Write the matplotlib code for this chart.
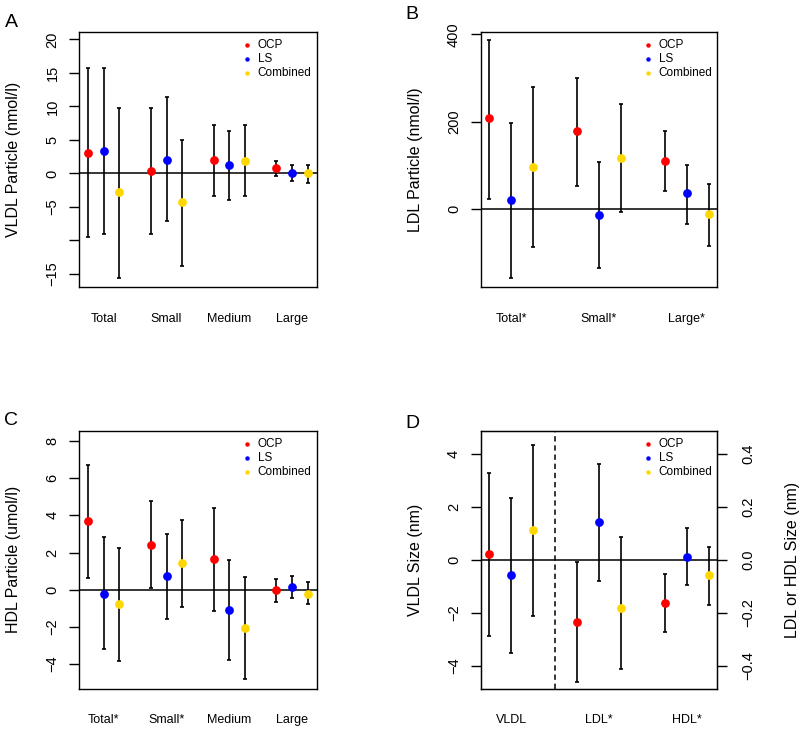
"""Lipoprotein particle panels

Four panels with group means and intervals for OCP, LS and the combined
treatment. Panel D has a second axis for the LDL and HDL sizes.

"""
import matplotlib
matplotlib.use("Agg")
import matplotlib.pyplot as plt

plt.rcParams['font.family'] = ['Liberation Sans', 'DejaVu Sans']

SERIES = ["OCP", "LS", "Combined"]
COLORS = ["#FF0000", "#0000FF", "#FFD700"]

# Panel A, VLDL particles (nmol/l), rows are OCP, LS, Combined
A_GROUPS = ["Total", "Small", "Medium", "Large"]
A_MEAN = [[3.1, 0.4, 2.0, 0.8], [3.3, 2.0, 1.2, 0.1], [-2.8, -4.3, 1.8, 0.0]]
A_LOW = [[-9.5, -9.1, -3.4, -0.4], [-9.1, -7.1, -4.0, -1.2],
         [-15.6, -13.8, -3.4, -1.4]]
A_HIGH = [[15.8, 9.8, 7.2, 1.9], [15.8, 11.4, 6.4, 1.2], [9.8, 5.0, 7.2, 1.2]]

# Panel B, LDL particles (nmol/l)
B_GROUPS = ["Total*", "Small*", "Large*"]
B_MEAN = [[208, 178, 111], [21, -13, 37], [97, 118, -11]]
B_LOW = [[23, 53, 41], [-157, -133, -34], [-86, -7, -83]]
B_HIGH = [[387, 300, 180], [197, 107, 102], [279, 240, 57]]

# Panel C, HDL particles (umol/l)
C_GROUPS = ["Total*", "Small*", "Medium", "Large"]
C_MEAN = [[3.70, 2.42, 1.63, -0.02], [-0.22, 0.72, -1.11, 0.16],
          [-0.79, 1.45, -2.05, -0.22]]
C_LOW = [[0.63, 0.11, -1.13, -0.65], [-3.20, -1.56, -3.77, -0.43],
         [-3.84, -0.93, -4.83, -0.79]]
C_HIGH = [[6.71, 4.79, 4.38, 0.56], [2.82, 3.02, 1.62, 0.75],
          [2.24, 3.73, 0.70, 0.41]]

# Panel D, VLDL size (nm) on the left axis
D_GROUPS = ["VLDL", "LDL*", "HDL*"]
D_VLDL_MEAN = [0.23, -0.59, 1.11]
D_VLDL_LOW = [-2.88, -3.54, -2.14]
D_VLDL_HIGH = [3.26, 2.34, 4.32]
# LDL and HDL size (nm) on the right axis
D_SIZE_MEAN = [[-0.237, -0.162], [0.141, 0.011], [-0.181, -0.058]]
D_SIZE_LOW = [[-0.462, -0.273], [-0.079, -0.096], [-0.413, -0.170]]
D_SIZE_HIGH = [[-0.010, -0.055], [0.361, 0.118], [0.086, 0.049]]


def positions(first_group, n_groups, series):
    """x positions of one series, groups are 4 units apart"""
    return [4 * g + series + 1 for g in range(first_group,
                                                first_group + n_groups)]


def draw_points(ax, x, mean, low, high, color):
    """Intervals with caps and a filled dot on top"""
    err = [[m - lo for m, lo in zip(mean, low)],
           [hi - m for m, hi in zip(mean, high)]]
    ax.errorbar(x, mean, yerr=err, fmt='none', ecolor='black',
                elinewidth=1.2, capsize=1.6, capthick=1.2, zorder=2)
    ax.plot(x, mean, 'o', color=color, ms=6.3, mec='none', zorder=3)


def draw_legend(ax):
    for i, (lab, col) in enumerate(zip(SERIES, COLORS)):
        y = 0.95 - 0.055 * i
        ax.plot(0.707, y, 'o', color=col, ms=3.2, mec='none',
                transform=ax.transAxes)
        ax.text(0.752, y, lab, fontsize=8.5, va='center', ha='left',
                transform=ax.transAxes)


def style_axes(ax, groups, xlim, ylim, yticks, ylabels, ylabel):
    ax.set_xlim(*xlim)
    ax.set_ylim(*ylim)
    ax.axhline(0, color='black', lw=1.1, zorder=1)
    ax.set_xticks([4 * g + 2 for g in range(len(groups))])
    ax.set_xticklabels(groups, fontsize=9)
    ax.tick_params(axis='x', length=0, pad=18.5)
    ax.set_yticks(yticks)
    ax.set_yticklabels(ylabels, fontsize=10.5, rotation=90, va='center')
    ax.tick_params(axis='y', length=7.2, width=1, pad=7)
    for sp in ax.spines.values():
        sp.set_linewidth(1)
    ax.set_ylabel(ylabel, fontsize=11.5)
    ax.yaxis.set_label_coords(-0.245, 0.5)


def plot_panel(ax, groups, mean, low, high, xlim, ylim, yticks, ylabels,
               ylabel):
    for s, col in enumerate(COLORS):
        x = positions(0, len(groups), s)
        draw_points(ax, x, mean[s], low[s], high[s], col)
    style_axes(ax, groups, xlim, ylim, yticks, ylabels, ylabel)
    draw_legend(ax)


def plot_panel_d(ax):
    twin = ax.twinx()
    for s, col in enumerate(COLORS):
        draw_points(ax, positions(0, 1, s), [D_VLDL_MEAN[s]],
                    [D_VLDL_LOW[s]], [D_VLDL_HIGH[s]], col)
        draw_points(twin, positions(1, 2, s), D_SIZE_MEAN[s], D_SIZE_LOW[s],
                    D_SIZE_HIGH[s], col)
    style_axes(ax, D_GROUPS, (0.6, 11.4), (-4.87, 4.87), [-4, -2, 0, 2, 4],
               ["\u22124", "\u22122", "0", "2", "4"], "VLDL Size (nm)")
    ax.axvline(4, color='black', lw=1.1, ls=(0, (3.5, 2.5)))
    twin.set_ylim(-0.487, 0.487)
    twin.set_yticks([-0.4, -0.2, 0.0, 0.2, 0.4])
    twin.set_yticklabels(["\u22120.4", "\u22120.2", "0.0", "0.2", "0.4"],
                         fontsize=10.5, rotation=90, va='center')
    twin.tick_params(axis='y', length=7.2, width=1, pad=10)
    twin.set_ylabel("LDL or HDL Size (nm)", fontsize=11.5)
    twin.yaxis.set_label_coords(1.285, 0.5)
    draw_legend(twin)


def main():
    fig = plt.figure(figsize=(8, 7.29), dpi=100)
    ax_a = fig.add_axes([0.0991, 0.6059, 0.2967, 0.3502])
    ax_b = fig.add_axes([0.6008, 0.6059, 0.2958, 0.3502])
    ax_c = fig.add_axes([0.0991, 0.0553, 0.2967, 0.3539])
    ax_d = fig.add_axes([0.6008, 0.0553, 0.2958, 0.3539])

    plot_panel(ax_a, A_GROUPS, A_MEAN, A_LOW, A_HIGH, (0.44, 15.56),
               (-17, 21.1), [-15, -10, -5, 0, 5, 10, 15, 20],
               ["\u221215", "", "\u22125", "0", "5", "10", "15", "20"],
               "VLDL Particle (nmol/l)")
    plot_panel(ax_b, B_GROUPS, B_MEAN, B_LOW, B_HIGH, (0.6, 11.4),
               (-178, 405), [0, 200, 400], ["0", "200", "400"],
               "LDL Particle (nmol/l)")
    plot_panel(ax_c, C_GROUPS, C_MEAN, C_LOW, C_HIGH, (0.44, 15.56),
               (-5.33, 8.56), [-4, -2, 0, 2, 4, 6, 8],
               ["\u22124", "\u22122", "0", "2", "4", "6", "8"],
               "HDL Particle (umol/l)")
    plot_panel_d(ax_d)

    for lab, x, y in [("A", 5, 27), ("B", 405, 19), ("C", 4, 425),
                      ("D", 405, 428)]:
        fig.text(x / 800, 1 - y / 729, lab, fontsize=14, ha='left',
                 va='baseline')

    fig.savefig("out.png", dpi=100)
    plt.close(fig)


if __name__ == "__main__":
    main()
